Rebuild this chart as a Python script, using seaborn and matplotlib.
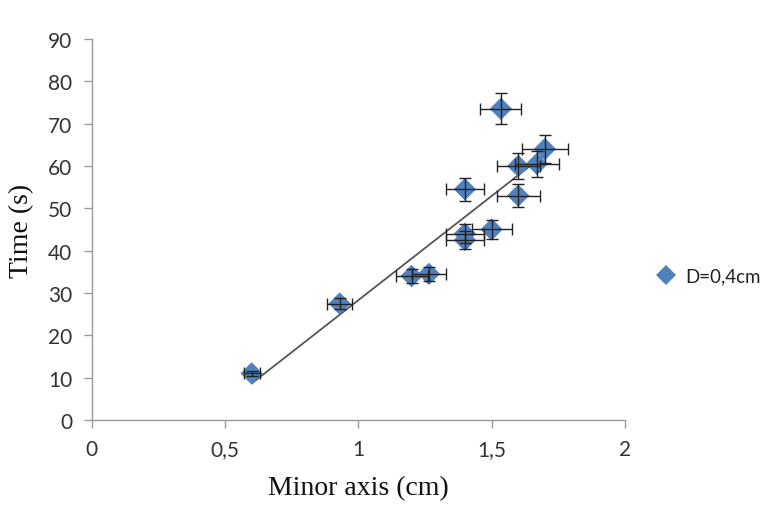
import numpy as np
import pandas as pd
import matplotlib
matplotlib.use("Agg")
import matplotlib.pyplot as plt
import seaborn as sns

minor_axis = [0.60, 0.93, 1.20, 1.265, 1.40, 1.40, 1.40, 1.50, 1.535, 1.60, 1.60, 1.67, 1.70]
time_s = [11.0, 27.5, 34.0, 34.5, 54.5, 44.0, 42.5, 45.0, 73.5, 60.0, 53.0, 60.5, 64.0]
rel_err = 0.05
series_name = "D=0,4cm"
x_ticks = [0, 0.5, 1, 1.5, 2]
x_tick_labels = ["0", "0,5", "1", "1,5", "2"]
y_ticks = list(range(0, 91, 10))

df = pd.DataFrame({"x": minor_axis, "y": time_s, "series": series_name})

sns.set_theme(style="white")
plt.rcParams["font.family"] = ["Lato", "DejaVu Sans"]

fig = plt.figure(figsize=(7.84, 5.06), dpi=100)
ax = fig.add_axes([0.117, 0.168, 0.680, 0.753])

blue = "#4F81BD"
sns.regplot(data=df, x="x", y="y", scatter=False, ci=None, ax=ax,
            line_kws=dict(color="#555555", lw=1.3, zorder=2))
sns.scatterplot(data=df, x="x", y="y", hue="series", palette=[blue], marker="D",
                s=130, edgecolor=blue, linewidth=0, ax=ax, zorder=3)
xa = np.array(minor_axis)
ya = np.array(time_s)
ax.errorbar(xa, ya, xerr=xa * rel_err, yerr=ya * rel_err, fmt="none",
            ecolor="#222222", elinewidth=1.0, capsize=4, capthick=1.0, zorder=4)

ax.set_xlim(0, 2)
ax.set_ylim(0, 90)
ax.set_xticks(x_ticks)
ax.set_xticklabels(x_tick_labels)
ax.set_yticks(y_ticks)
ax.tick_params(axis="both", labelsize=15, labelcolor="#333333", color="#999999",
               length=6, width=1.0, direction="out", bottom=True, left=True, pad=8)
for s in ["top", "right"]:
    ax.spines[s].set_visible(False)
for s in ["left", "bottom"]:
    ax.spines[s].set_color("#999999")
    ax.spines[s].set_linewidth(1.0)

ax.set_xlabel("Minor axis (cm)", fontfamily="Liberation Serif", fontsize=20, color="#111111", labelpad=11)
ax.set_ylabel("Time (s)", fontfamily="Liberation Serif", fontsize=20, color="#111111", labelpad=10)

leg = ax.legend(loc="center left", bbox_to_anchor=(1.01, 0.378), frameon=False,
                fontsize=13.5, handletextpad=0.05, markerscale=0.85)
for t in leg.get_texts():
    t.set_color("#222222")

fig.savefig("out.png", dpi=100)
